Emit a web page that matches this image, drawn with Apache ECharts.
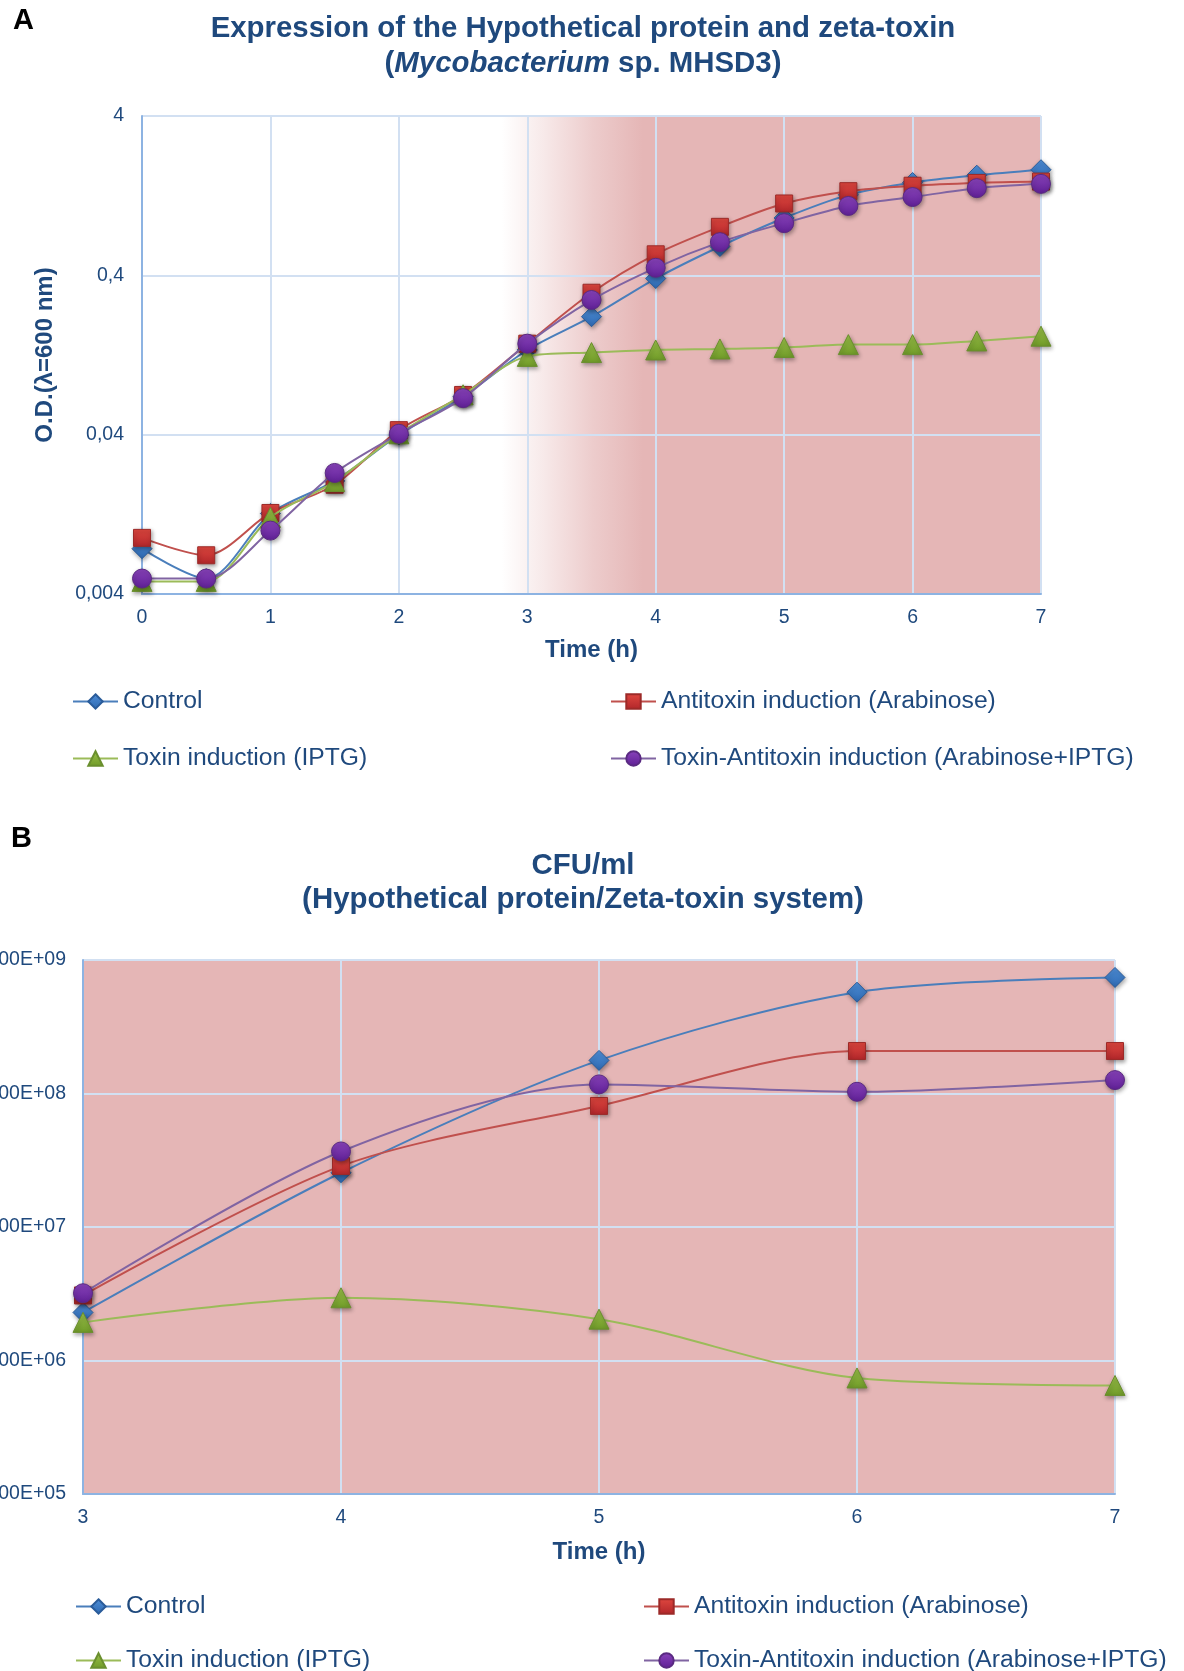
<!DOCTYPE html>
<html>
<head>
<meta charset="utf-8">
<script src="https://cdn.jsdelivr.net/npm/echarts@6/dist/echarts.min.js"></script>
<style>
  html, body { margin: 0; padding: 0; background: #fff; }
  #chart { width: 1184px; height: 1671px; }
</style>
</head>
<body>
<div id="chart"></div>
<script>
// ---- data ----
const seriesNames = [
  'Control',
  'Antitoxin induction (Arabinose)',
  'Toxin induction (IPTG)',
  'Toxin-Antitoxin induction (Arabinose+IPTG)'
];

// panel A: O.D. 600 nm over time
const timeA = [0, 0.5, 1, 1.5, 2, 2.5, 3, 3.5, 4, 4.5, 5, 5.5, 6, 6.5, 7];
const odControl = [0.0077, 0.0050, 0.0128, 0.0205, 0.0398, 0.0693, 0.136, 0.22, 0.382, 0.607, 0.916, 1.28, 1.53, 1.70, 1.84];
const odArabinose = [0.0090, 0.0070, 0.0129, 0.0194, 0.0427, 0.0710, 0.149, 0.311, 0.542, 0.806, 1.13, 1.35, 1.46, 1.52, 1.55];
const odIPTG = [0.0048, 0.0048, 0.0121, 0.0203, 0.0405, 0.0712, 0.124, 0.131, 0.136, 0.138, 0.141, 0.147, 0.147, 0.155, 0.166];
const odBoth = [0.0050, 0.0050, 0.0100, 0.0230, 0.0405, 0.0678, 0.149, 0.280, 0.446, 0.646, 0.850, 1.09, 1.24, 1.41, 1.50];
const yTicksA = ['0,004', '0,04', '0,4', '4'];
const odBase = 0.004;
const inductionA = [2.8, 3.9, 7]; // shaded induction window: fade start, fully shaded, end

// panel B: CFU/ml over time
const timeB = [3, 4, 5, 6, 7];
const cfuControl = [2.29e6, 2.55e7, 1.77e8, 5.74e8, 7.4e8];
const cfuArabinose = [3.07e6, 2.86e7, 8.07e7, 2.08e8, 2.08e8];
const cfuIPTG = [1.93e6, 2.95e6, 2.04e6, 7.4e5, 6.5e5];
const cfuBoth = [3.19e6, 3.68e7, 1.17e8, 1.03e8, 1.26e8];
const yTicksB = ['1,00E+05', '1,00E+06', '1,00E+07', '1,00E+08', '1,00E+09'];

// ---- styles ----
const navy = '#1f497d';
const font = '"Liberation Sans", Arial, sans-serif';
const pink = '#e5b6b6';
const gridLine = '#d2e0f2';
const axisBlue = '#8db3e2';

const looks = [
  { symbol: 'diamond', size: 20, line: '#4a7ebb', top: '#4f8fd8', bottom: '#2d68b0', border: '#2a5c9a' },
  { symbol: 'rect', size: 17, line: '#c0504d', top: '#e0473f', bottom: '#b0262a', border: '#9c2a28' },
  { symbol: 'triangle', size: 20, line: '#9bbb59', top: '#9cc24a', bottom: '#6f9a28', border: '#6a8f2e' },
  { symbol: 'circle', size: 19, line: '#8064a2', top: '#8a44bc', bottom: '#5e1f94', border: '#5a2a82' }
];

function markerStyle(lk) {
  return {
    color: new echarts.graphic.LinearGradient(0, 0, 0, 1, [
      { offset: 0, color: lk.top }, { offset: 1, color: lk.bottom }
    ]),
    borderColor: lk.border,
    borderWidth: 1,
    shadowBlur: 4,
    shadowColor: 'rgba(0,0,0,0.35)',
    shadowOffsetX: 1,
    shadowOffsetY: 2
  };
}

function lineSeries(i, axis, xs, ys, transform) {
  const lk = looks[i];
  return {
    name: seriesNames[i],
    type: 'line',
    xAxisIndex: axis,
    yAxisIndex: axis,
    smooth: 0.3,
    symbol: lk.symbol,
    symbolSize: lk.size,
    showAllSymbol: true,
    lineStyle: { color: lk.line, width: 2 },
    itemStyle: markerStyle(lk),
    data: xs.map((x, k) => [x, transform ? transform(ys[k]) : ys[k]]),
    z: 3 + i
  };
}

const toLogA = v => Math.log10(v / odBase);

function legendAt(name, left, top) {
  return {
    data: [name],
    left: left,
    top: top,
    padding: 0,
    itemWidth: 45,
    itemHeight: 18,
    selectedMode: false,
    textStyle: { fontFamily: font, fontSize: 24.7, color: navy }
  };
}

const axisText = { fontFamily: font, fontSize: 19.5, color: navy };
const nameText = { fontFamily: font, fontSize: 24, fontWeight: 'bold', color: navy };

const chart = echarts.init(document.getElementById('chart'), null, { renderer: 'canvas' });

chart.setOption({
  backgroundColor: '#fff',
  animation: false,
  graphic: [
    { type: 'text', x: 13, y: 6, style: { text: 'A', font: 'bold 29px ' + font, fill: '#000' } },
    { type: 'text', x: 11, y: 824, style: { text: 'B', font: 'bold 29px ' + font, fill: '#000' } },
    {
      type: 'text', x: 583, y: 11,
      style: {
        text: '{b|Expression of the Hypothetical protein and zeta-toxin}\n{b|(}{bi|Mycobacterium}{b| sp. MHSD3)}',
        align: 'center',
        rich: {
          b: { fontFamily: font, fontSize: 29.4, fontWeight: 'bold', fill: navy, lineHeight: 35 },
          bi: { fontFamily: font, fontSize: 29.4, fontWeight: 'bold', fontStyle: 'italic', fill: navy, lineHeight: 35 }
        }
      }
    },
    {
      type: 'text', x: 583, y: 849,
      style: {
        text: 'CFU/ml\n(Hypothetical protein/Zeta-toxin system)',
        align: 'center',
        font: 'bold 29.4px ' + font,
        lineHeight: 34,
        fill: navy
      }
    }
  ],
  legend: [
    legendAt(seriesNames[0], 72, 689),
    legendAt(seriesNames[1], 610, 689),
    legendAt(seriesNames[2], 72, 746),
    legendAt(seriesNames[3], 610, 746),
    legendAt(seriesNames[0], 75, 1594),
    legendAt(seriesNames[1], 643, 1594),
    legendAt(seriesNames[2], 75, 1648),
    legendAt(seriesNames[3], 643, 1648)
  ],
  grid: [
    { left: 142, top: 116, width: 899, height: 478, outerBoundsMode: 'none', containLabel: false },
    { left: 83, top: 960, width: 1032, height: 534, outerBoundsMode: 'none', containLabel: false,
      show: true, backgroundColor: pink, borderWidth: 0 }
  ],
  xAxis: [
    {
      gridIndex: 0, type: 'value', min: 0, max: 7, interval: 1,
      name: 'Time (h)', nameLocation: 'middle', nameGap: 44, nameTextStyle: nameText,
      axisLine: { lineStyle: { color: axisBlue, width: 2 } },
      axisTick: { show: false },
      axisLabel: Object.assign({ margin: 14 }, axisText),
      splitLine: { show: true, lineStyle: { color: gridLine, width: 2 } }
    },
    {
      gridIndex: 1, type: 'value', min: 3, max: 7, interval: 1,
      name: 'Time (h)', nameLocation: 'middle', nameGap: 46, nameTextStyle: nameText,
      axisLine: { lineStyle: { color: axisBlue, width: 2 } },
      axisTick: { show: false },
      axisLabel: Object.assign({ margin: 14 }, axisText),
      splitLine: { show: true, lineStyle: { color: gridLine, width: 2 } }
    }
  ],
  yAxis: [
    {
      gridIndex: 0, type: 'value', min: 0, max: yTicksA.length - 1, interval: 1,
      name: 'O.D.(λ=600 nm)', nameLocation: 'middle', nameRotate: 90, nameGap: 85, nameTextStyle: nameText,
      axisLine: { show: true, lineStyle: { color: axisBlue, width: 2 } },
      axisTick: { show: false },
      axisLabel: Object.assign({ margin: 18, formatter: v => yTicksA[Math.round(v)] }, axisText),
      splitLine: { show: true, lineStyle: { color: gridLine, width: 2 } }
    },
    {
      gridIndex: 1, type: 'log', logBase: 10, min: 1e5, max: 1e9,
      axisLine: { show: true, lineStyle: { color: axisBlue, width: 2 } },
      axisTick: { show: false },
      axisLabel: Object.assign({ margin: 17, formatter: v => yTicksB[Math.round(Math.log10(v)) - 5] }, axisText),
      splitLine: { show: true, lineStyle: { color: gridLine, width: 2 } }
    }
  ],
  series: [
    {
      // induction shading behind the grid lines of panel A
      type: 'custom',
      name: 'induction',
      xAxisIndex: 0,
      yAxisIndex: 0,
      z: -1,
      silent: true,
      clip: false,
      encode: { x: [0, 1, 2] },
      data: [inductionA],
      renderItem: (params, api) => {
        const x0 = api.value(0), xf = api.value(1), x1 = api.value(2);
        const p0 = api.coord([x0, yTicksA.length - 1]);
        const p1 = api.coord([x1, 0]);
        const full = (xf - x0) / (x1 - x0);
        return {
          type: 'rect',
          shape: { x: p0[0], y: p0[1], width: p1[0] - p0[0], height: p1[1] - p0[1] },
          style: {
            fill: new echarts.graphic.LinearGradient(0, 0, 1, 0, [
              { offset: 0, color: 'rgba(229,182,182,0)' },
              { offset: full * 0.3, color: 'rgba(229,182,182,0.3)' },
              { offset: full * 0.65, color: 'rgba(229,182,182,0.7)' },
              { offset: full, color: 'rgba(229,182,182,1)' },
              { offset: 1, color: 'rgba(229,182,182,1)' }
            ])
          }
        };
      }
    },
    lineSeries(0, 0, timeA, odControl, toLogA),
    lineSeries(1, 0, timeA, odArabinose, toLogA),
    lineSeries(2, 0, timeA, odIPTG, toLogA),
    lineSeries(3, 0, timeA, odBoth, toLogA),
    lineSeries(0, 1, timeB, cfuControl),
    lineSeries(1, 1, timeB, cfuArabinose),
    lineSeries(2, 1, timeB, cfuIPTG),
    lineSeries(3, 1, timeB, cfuBoth)
  ]
});
</script>
</body>
</html>
